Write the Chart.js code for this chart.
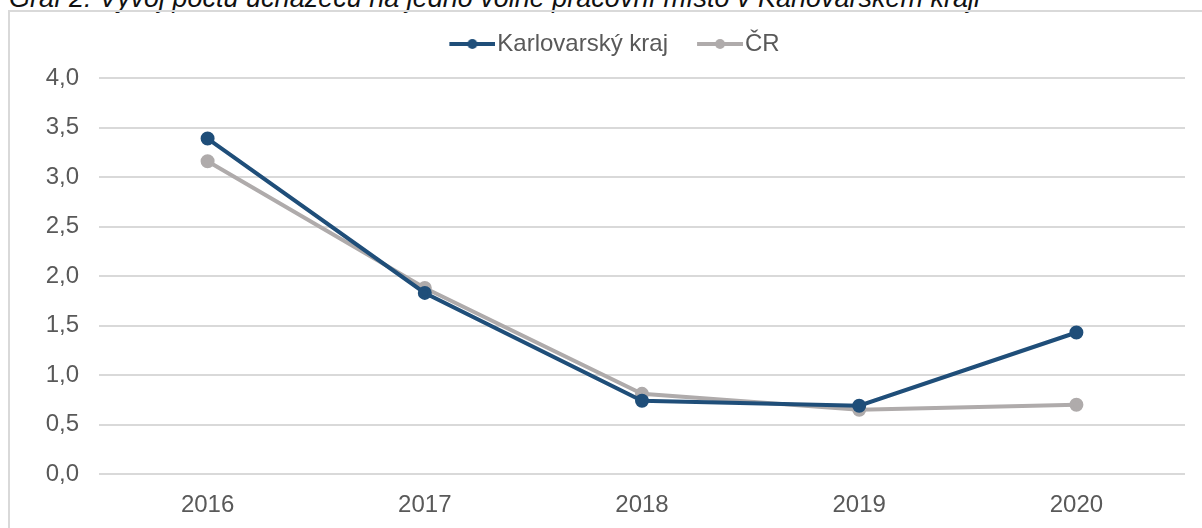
<!DOCTYPE html>
<html>
<head>
<meta charset="utf-8">
<script src="https://cdn.jsdelivr.net/npm/chart.js@4"></script>
<style>
  body { margin: 0; background: #fff; overflow: hidden; width: 1202px; height: 528px; position: relative; }
  #title { position: absolute; left: 9px; top: -15px; font: italic 27px "Liberation Sans", Arial, sans-serif; line-height: 27px; color: #111; white-space: nowrap; }
  #frame { position: absolute; left: 8px; top: 10px; width: 1210px; height: 540px; border: 2px solid #d9d9d9; }
  #emissionWrap { position: absolute; left: 0; top: 0; }
</style>
</head>
<body>
<div id="title">Graf 2: Vývoj počtu uchazečů na jedno volné pracovní místo v Karlovarském kraji</div>
<div id="frame">
  <div id="emissionWrap"><canvas id="lineChart" width="1190" height="516"></canvas></div>
</div>
<script>
const years = ['2016', '2017', '2018', '2019', '2020'];
const karlovarsky = [3.39, 1.83, 0.74, 0.69, 1.43];
const cr = [3.16, 1.88, 0.81, 0.65, 0.70];
const seriesNames = ['Karlovarský kraj', 'ČR'];
const seriesColors = ['#1f4e79', '#afabab'];

// legend marker: short line with a dot in the middle (left margin left transparent)
function legendMarker(color) {
    const c = document.createElement('canvas');
    c.width = 52; c.height = 12;
    const g = c.getContext('2d');
    g.strokeStyle = color;
    g.lineWidth = 4;
    g.beginPath(); g.moveTo(6, 6); g.lineTo(52, 6); g.stroke();
    g.fillStyle = color;
    g.beginPath(); g.arc(29, 6, 5, 0, Math.PI * 2); g.fill();
    return c;
}

// nudge the legend a bit to the right, like the original
const legendShift = {
    id: 'legendShift',
    afterLayout(chart) {
        chart.legend.left += 19;
        chart.legend.right += 19;
    }
};

const tickFont = { family: '"Liberation Sans", Arial, sans-serif', size: 24 };

const ctx = document.getElementById('lineChart').getContext('2d');
const lineChart = new Chart(ctx, {
    type: 'line',
    data: {
        labels: years,
        datasets: [karlovarsky, cr].map((vals, i) => ({
            label: seriesNames[i],
            data: vals,
            borderColor: seriesColors[i],
            backgroundColor: seriesColors[i],
            borderWidth: 4,
            pointRadius: 5,
            pointHoverRadius: 5,
            tension: 0
        }))
    },
    plugins: [legendShift],
    options: {
        responsive: false,
        animation: false,
        devicePixelRatio: 1,
        layout: { padding: { left: 0, right: 15, top: -13, bottom: 0 } },
        plugins: {
            tooltip: { enabled: false },
            // empty spacer between legend and plot area
            subtitle: {
                display: true,
                text: ' ',
                weight: 500,
                font: { size: 1 },
                padding: { top: 11, bottom: 0 }
            },
            legend: {
                position: 'top',
                labels: {
                    color: '#595959',
                    font: tickFont,
                    padding: 33,
                    usePointStyle: true,
                    pointStyleWidth: 32,
                    generateLabels: chart => chart.data.datasets.map((ds, i) => ({
                        text: ds.label,
                        fontColor: '#595959',
                        pointStyle: legendMarker(ds.borderColor),
                        datasetIndex: i,
                        lineWidth: 0,
                        strokeStyle: 'transparent',
                        fillStyle: 'transparent'
                    }))
                }
            }
        },
        scales: {
            x: {
                offset: true,
                grid: { display: false, drawTicks: false },
                border: { display: false },
                ticks: { color: '#595959', font: tickFont, padding: 17 },
                afterFit: s => { s.height = 54; }
            },
            y: {
                min: 0,
                max: 4,
                grid: { color: '#d9d9d9', lineWidth: 2, drawTicks: false },
                border: { display: false },
                ticks: {
                    stepSize: 0.5,
                    color: '#595959',
                    font: tickFont,
                    padding: 20,
                    callback: v => v.toFixed(1).replace('.', ',')
                },
                afterFit: s => { s.width = 89; }
            }
        }
    }
});
</script>
</body>
</html>
